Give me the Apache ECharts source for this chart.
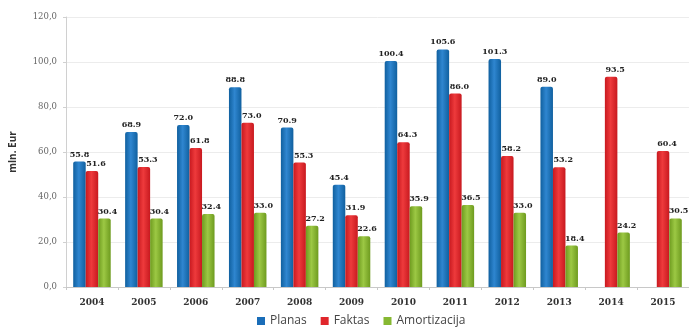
<!DOCTYPE html>
<html>
<head>
<meta charset="utf-8">
<script src="https://cdn.jsdelivr.net/npm/echarts@6/dist/echarts.min.js"></script>
<style>
  html, body { margin: 0; padding: 0; background: #fff; }
  #chart { width: 689px; height: 334px; }
</style>
</head>
<body>
<div id="chart"></div>
<script>
const years = ['2004','2005','2006','2007','2008','2009','2010','2011','2012','2013','2014','2015'];
const planas = [55.8, 68.9, 72.0, 88.8, 70.9, 45.4, 100.4, 105.6, 101.3, 89.0, null, null];
const faktas = [51.6, 53.3, 61.8, 73.0, 55.3, 31.9, 64.3, 86.0, 58.2, 53.2, 93.5, 60.4];
const amortizacija = [30.4, 30.4, 32.4, 33.0, 27.2, 22.6, 35.9, 36.5, 33.0, 18.4, 24.2, 30.5];

// Horizontal shading gives each bar a rounded, cylinder-like look
function cyl(edge, mid) {
  return new echarts.graphic.LinearGradient(0, 0, 1, 0, [
    { offset: 0, color: edge },
    { offset: 0.45, color: mid },
    { offset: 1, color: edge }
  ]);
}

function barSeries(name, data, edge, mid, labelOffset) {
  return {
    name: name,
    type: 'bar',
    data: data,
    barWidth: 12.5,
    barGap: '0%',
    itemStyle: { color: cyl(edge, mid), borderRadius: [2, 2, 0, 0] },
    label: {
      show: true,
      position: 'top',
      offset: labelOffset,
      distance: 3,
      color: '#222',
      fontSize: 8,
      fontWeight: 'bold',
      fontFamily: 'DejaVu Serif',
      formatter: p => p.value == null ? '' : p.value.toFixed(1)
    }
  };
}

const chart = echarts.init(document.getElementById('chart'));
chart.setOption({
  animation: false,
  backgroundColor: '#fff',
  grid: { left: 65, top: 17, width: 630, height: 270, containLabel: false },
  legend: {
    bottom: 2,
    left: 252,
    itemWidth: 8,
    itemHeight: 8,
    itemGap: 14,
    icon: 'rect',
    textStyle: { color: '#444', fontSize: 12, fontFamily: 'Open Sans' },
    data: [
      { name: 'Planas', itemStyle: { color: '#1a6db8' } },
      { name: 'Faktas', itemStyle: { color: '#e0262b' } },
      { name: 'Amortizacija', itemStyle: { color: '#86b832' } }
    ]
  },
  xAxis: {
    type: 'category',
    data: years,
    axisLine: { lineStyle: { color: '#c8c8c8' } },
    axisTick: { show: true, length: 3, lineStyle: { color: '#c8c8c8' } },
    axisLabel: { color: '#333', fontSize: 9, fontWeight: 'bold', fontFamily: 'DejaVu Serif', margin: 11 }
  },
  yAxis: {
    type: 'value',
    min: 0,
    max: 120,
    interval: 20,
    name: 'mln. Eur',
    nameLocation: 'middle',
    nameRotate: 90,
    nameGap: 48,
    nameTextStyle: { color: '#333', fontSize: 10, fontWeight: 'bold', fontFamily: 'Open Sans' },
    axisLine: { show: true, lineStyle: { color: '#d0d0d0' } },
    axisTick: { show: true, length: 3, lineStyle: { color: '#d0d0d0' } },
    splitLine: { lineStyle: { color: '#ececec' } },
    axisLabel: {
      color: '#666',
      fontSize: 8.5,
      fontFamily: 'DejaVu Serif',
      margin: 9,
      formatter: v => v.toFixed(1).replace('.', ',')
    }
  },
  series: [
    barSeries('Planas', planas, '#10609f', '#2f86d0', [0, 0]),
    barSeries('Faktas', faktas, '#c8191f', '#ee3a3c', [4, 0]),
    barSeries('Amortizacija', amortizacija, '#6e9b1f', '#9cc844', [3, 0])
  ]
});
</script>
</body>
</html>
